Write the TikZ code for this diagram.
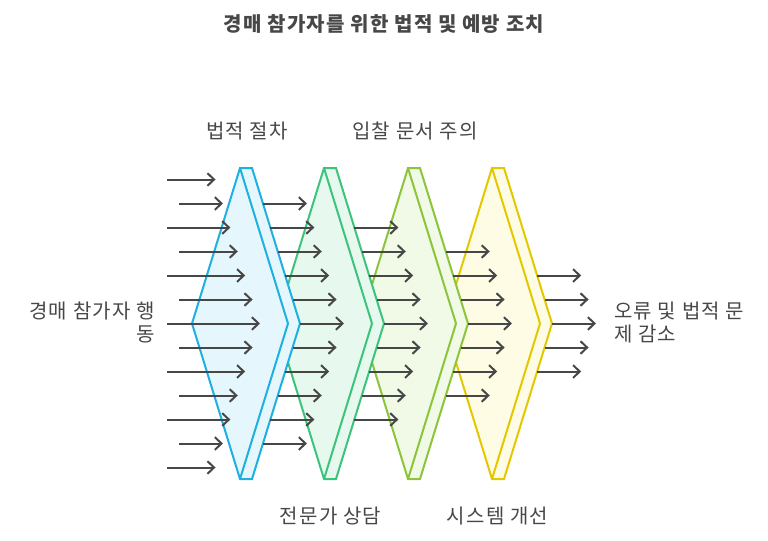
\documentclass[tikz,border=0pt]{standalone}
\usepackage{fontspec}
\setmainfont[LetterSpace=6]{Noto Sans CJK KR}
\usetikzlibrary{arrows.meta}
\definecolor{txt}{HTML}{474747}
\definecolor{arr}{HTML}{474747}
\definecolor{sA}{HTML}{1EB0E0}\definecolor{fA}{HTML}{E5F7FD}
\definecolor{sB}{HTML}{3CC47C}\definecolor{fB}{HTML}{E7F8EF}
\definecolor{sC}{HTML}{8CC43A}\definecolor{fC}{HTML}{F1F9E7}
\definecolor{sD}{HTML}{E3C800}\definecolor{fD}{HTML}{FEFCE5}
\tikzset{
  flow/.style={draw=arr, line width=1.5pt, -{Straight Barb[length=5pt,width=9.5pt]}},
  lbl/.style={text=txt, inner sep=0pt, font=\fontsize{15pt}{17.6pt}\selectfont},
  ttl/.style={text=txt, inner sep=0pt, font=\fontsize{15pt}{18pt}\selectfont\bfseries},
  chev/.style={line width=1.5pt, line join=miter}
}
\begin{document}
\begin{tikzpicture}[x=0.75pt,y=-0.75pt]
\useasboundingbox (0,0) rectangle (768,540);
% chevron shapes, drawn right to left so left ones overlap
\foreach \X/\s/\f in {492/sD/fD, 408/sC/fC, 324/sB/fB, 240/sA/fA}{
  \draw[chev, draw=\s, fill=\f] (\X,168) -- (\X+12,168) -- (\X+60,323.5) -- (\X+12,479) -- (\X,479) -- (\X-48,323.5) -- cycle;
  \draw[chev, draw=\s] (\X,168) -- (\X+48,323.5) -- (\X,479);
}
% incoming arrows
\foreach \i in {0,...,12}{
  \pgfmathsetmacro{\d}{abs(\i-6)}
  \pgfmathsetmacro{\yy}{323.5+24*(\i-6)}
  \pgfmathsetmacro{\xs}{mod(\i,2)==0 ? 167 : 179}
  \pgfmathsetmacro{\xe}{260-7.41*\d}
  \draw[flow] (\xs,\yy) -- (\xe,\yy);
}
% arrows between and after chevrons
\foreach \j/\X in {0/240,1/324,2/408,3/492}{
  \pgfmathtruncatemacro{\m}{5-\j}
  \foreach \k in {-\m,...,\m}{
    \pgfmathsetmacro{\yy}{323.5+24*\k}
    \pgfmathsetmacro{\xs}{\X+60-7.41*abs(\k)}
    \draw[flow] (\xs,\yy) -- (\xs+44,\yy);
  }
}
% texts
\node[ttl] (title) at (384,24) {경매 참가자를 위한 법적 및 예방 조치};
\node[lbl] (l1) at (247,131) {법적 절차};
\node[lbl] (l3) at (415,131) {입찰 문서 주의};
\node[lbl] (l2) at (330.5,516) {전문가 상담};
\node[lbl] (l4) at (497.5,516) {시스템 개선};
\node[lbl, anchor=east, align=right] (in) at (155,322.5) {경매 참가자 행\\동};
\node[lbl, anchor=west, align=left] (out) at (614,322.5) {오류 및 법적 문\\제 감소};
\end{tikzpicture}
\end{document}
